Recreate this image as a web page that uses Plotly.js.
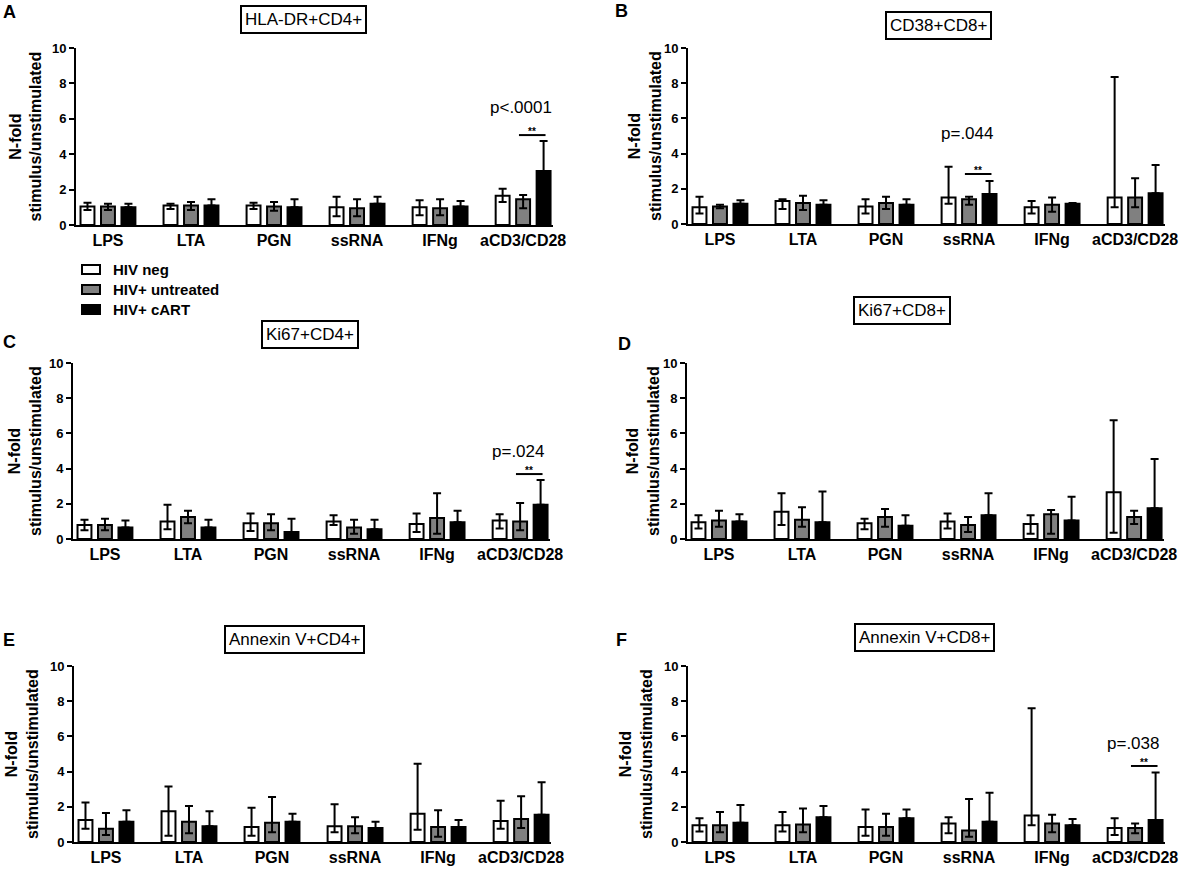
<!DOCTYPE html>
<html>
<head>
<meta charset="utf-8">
<script src="https://cdn.plot.ly/plotly-3.0.1.min.js"></script>
<style>
  html, body { margin: 0; padding: 0; background: #fff; }
  #chart { width: 1192px; height: 870px; }
</style>
</head>
<body>
<div id="chart"></div>
<script>
const W = 1192;
const H = 870;
const FONT = 'Liberation Sans, Arial, sans-serif';

const CATEGORIES = ['LPS', 'LTA', 'PGN', 'ssRNA', 'IFNg', 'aCD3/CD28'];
const GROUPS = ['HIV neg', 'HIV+ untreated', 'HIV+ cART'];
const FILLS = ['#ffffff', '#808080', '#000000'];
const PANEL_TITLES = ['HLA-DR+CD4+', 'CD38+CD8+', 'Ki67+CD4+', 'Ki67+CD8+', 'Annexin V+CD4+', 'Annexin V+CD8+'];
const PANEL_LETTERS = ['A', 'B', 'C', 'D', 'E', 'F'];

// bar heights per group: [HIV neg, HIV+ untreated, HIV+ cART]
const A_MEAN = [[1.05, 1.1, 1.1, 1.0, 1.0, 1.65], [1.05, 1.1, 1.05, 0.95, 0.95, 1.45], [1.0, 1.1, 1.0, 1.2, 1.05, 3.05]];
const A_HI = [[1.25, 1.2, 1.25, 1.6, 1.4, 2.05], [1.2, 1.3, 1.3, 1.45, 1.45, 1.7], [1.2, 1.45, 1.45, 1.6, 1.35, 4.75]];
const A_LO = [[0.85, 0.9, 0.9, 0.5, 0.55, 1.3], [0.85, 0.85, 0.8, 0.5, 0.55, 0.95]];

const B_MEAN = [[0.95, 1.3, 1.0, 1.5, 0.95, 1.5], [1.0, 1.2, 1.2, 1.4, 1.1, 1.5], [1.15, 1.1, 1.1, 1.7, 1.15, 1.75]];
const B_HI = [[1.55, 1.4, 1.4, 3.25, 1.3, 8.35], [1.1, 1.6, 1.55, 1.55, 1.5, 2.6], [1.35, 1.35, 1.4, 2.45, 1.2, 3.35]];
const B_LO = [[0.6, 0.85, 0.6, 1.15, 0.6, 0.95], [0.9, 0.8, 0.85, 1.1, 0.7, 0.95]];

const C_MEAN = [[0.8, 1.0, 0.9, 1.0, 0.85, 1.05], [0.8, 1.25, 0.9, 0.65, 1.2, 1.0], [0.65, 0.65, 0.4, 0.55, 0.95, 1.95]];
const C_HI = [[1.1, 1.95, 1.45, 1.35, 1.45, 1.4], [1.15, 1.6, 1.4, 1.1, 2.6, 2.05], [1.05, 1.1, 1.15, 1.1, 1.6, 3.35]];
const C_LO = [[0.5, 0.55, 0.45, 0.8, 0.4, 0.6], [0.5, 0.9, 0.5, 0.3, 0.3, 0.5]];

const D_MEAN = [[0.95, 1.55, 0.9, 1.0, 0.85, 2.65], [1.05, 1.1, 1.25, 0.8, 1.4, 1.25], [1.0, 0.95, 0.75, 1.35, 1.05, 1.75]];
const D_HI = [[1.35, 2.6, 1.15, 1.45, 1.35, 6.75], [1.6, 1.8, 1.7, 1.25, 1.65, 1.6], [1.4, 2.7, 1.35, 2.6, 2.4, 4.55]];
const D_LO = [[0.6, 0.8, 0.55, 0.6, 0.3, 0.35], [0.7, 0.7, 0.7, 0.4, 0.3, 0.85]];

const E_MEAN = [[1.25, 1.75, 0.85, 0.9, 1.6, 1.2], [0.75, 1.15, 1.1, 0.9, 0.85, 1.3], [1.15, 0.9, 1.15, 0.8, 0.85, 1.55]];
const E_HI = [[2.25, 3.15, 1.95, 2.15, 4.45, 2.35], [1.65, 2.05, 2.55, 1.4, 1.8, 2.6], [1.8, 1.75, 1.6, 1.15, 1.25, 3.4]];
const E_LO = [[0.75, 0.35, 0.35, 0.55, 0.7, 0.75], [0.4, 0.5, 0.55, 0.5, 0.3, 0.8]];

const F_MEAN = [[0.95, 0.95, 0.85, 1.05, 1.5, 0.8], [0.95, 1.0, 0.85, 0.65, 1.05, 0.8], [1.1, 1.4, 1.35, 1.15, 0.95, 1.25]];
const F_HI = [[1.35, 1.7, 1.85, 1.4, 7.6, 1.35], [1.7, 1.9, 1.6, 2.45, 1.55, 1.05], [2.1, 2.05, 1.85, 2.8, 1.3, 3.95]];
const F_LO = [[0.6, 0.6, 0.35, 0.5, 0.95, 0.4], [0.55, 0.55, 0.35, 0.3, 0.55, 0.5]];

// significance marks: panel, category, bracket height, p label, p label height
const SIG_PANEL = [0, 1, 2, 5];
const SIG_CATEGORY = [5, 3, 5, 5];
const SIG_BRACKET = [5.08, 2.84, 3.69, 4.32];
const SIG_TEXT = ['p<.0001', 'p=.044', 'p=.024', 'p=.038'];
const SIG_TEXT_Y = [6.65, 5.15, 5.0, 5.62];

const PANEL_DATA = [
  [A_MEAN, A_HI, A_LO], [B_MEAN, B_HI, B_LO], [C_MEAN, C_HI, C_LO],
  [D_MEAN, D_HI, D_LO], [E_MEAN, E_HI, E_LO], [F_MEAN, F_HI, F_LO],
];

// pixel boxes of each plot area and its decorations
const PANEL_BOX = [
  { l: 76, r: 553, t: 48, b: 225, titleX: 303, titleY: 20, letterX: 9, letterY: 12, ylabX: 25 },
  { l: 688, r: 1165, t: 48, b: 224, titleX: 938, titleY: 25, letterX: 621, letterY: 11, ylabX: 645 },
  { l: 73, r: 550, t: 363, b: 539, titleX: 310, titleY: 335, letterX: 9, letterY: 342, ylabX: 25 },
  { l: 687, r: 1164, t: 363, b: 539, titleX: 902, titleY: 310, letterX: 624, letterY: 344, ylabX: 643 },
  { l: 74, r: 551, t: 666, b: 842, titleX: 294, titleY: 639, letterX: 9, letterY: 640, ylabX: 22 },
  { l: 688, r: 1165, t: 666, b: 842, titleX: 925, titleY: 637, letterX: 621, letterY: 640, ylabX: 636 },
];

// legend block (drawn by hand, between panels A and C)
const LEGEND_ROW_Y = [269.5, 289.5, 309.5];
const LEGEND_BOX_X = [82, 100];
const LEGEND_TEXT_X = 111;

const px = (x) => x / W;
const py = (y) => 1 - y / H;
const catIdx = CATEGORIES.map((_, i) => i);

const traces = [];
const layout = {
  width: W,
  height: H,
  margin: { l: 0, r: 0, t: 0, b: 0 },
  paper_bgcolor: '#ffffff',
  plot_bgcolor: '#ffffff',
  barmode: 'group',
  bargap: 0.26,
  bargroupgap: 0.32,
  font: { family: FONT, color: '#000' },
  showlegend: false,
  annotations: [],
  shapes: [],
};

PANEL_DATA.forEach(([means, his, los], p) => {
  const suffix = p === 0 ? '' : String(p + 1);
  const box = PANEL_BOX[p];

  means.forEach((mean, g) => {
    const hi = his[g];
    const lo = los[g];
    traces.push({
      type: 'bar',
      name: GROUPS[g],
      x: catIdx,
      y: mean,
      xaxis: 'x' + suffix,
      yaxis: 'y' + suffix,
      marker: { color: FILLS[g], line: { color: '#000', width: 2 } },
      error_y: {
        type: 'data',
        symmetric: false,
        array: mean.map((v, i) => hi[i] - v),
        arrayminus: mean.map((v, i) => (lo ? v - lo[i] : 0)),
        color: '#000',
        thickness: 2,
        width: 4,
      },
      hoverinfo: 'skip',
    });
  });

  layout['xaxis' + suffix] = {
    domain: [px(box.l), px(box.r)],
    anchor: 'y' + suffix,
    range: [-0.385, 5.36],
    tickvals: catIdx,
    ticktext: CATEGORIES,
    ticks: '',
    showline: true,
    linecolor: '#000',
    linewidth: 2,
    showgrid: false,
    zeroline: false,
    fixedrange: true,
    tickfont: { family: FONT, size: 16, weight: 'bold', color: '#000' },
  };
  layout['yaxis' + suffix] = {
    domain: [py(box.b), py(box.t)],
    anchor: 'x' + suffix,
    range: [0, 10],
    dtick: 2,
    ticks: 'outside',
    ticklen: 5,
    tickwidth: 2,
    tickcolor: '#000',
    showline: true,
    linecolor: '#000',
    linewidth: 2,
    showgrid: false,
    zeroline: false,
    fixedrange: true,
    tickfont: { family: FONT, size: 13, weight: 'bold', color: '#000' },
  };

  // boxed panel title
  layout.annotations.push({
    xref: 'paper', yref: 'paper',
    x: px(box.titleX), y: py(box.titleY),
    xanchor: 'center', yanchor: 'middle',
    text: PANEL_TITLES[p],
    showarrow: false,
    font: { family: FONT, size: 17, color: '#000' },
    bgcolor: '#ffffff',
    bordercolor: '#000',
    borderwidth: 2,
    borderpad: 3,
  });
  // panel letter
  layout.annotations.push({
    xref: 'paper', yref: 'paper',
    x: px(box.letterX), y: py(box.letterY),
    xanchor: 'center', yanchor: 'middle',
    text: PANEL_LETTERS[p],
    showarrow: false,
    font: { family: FONT, size: 18, weight: 'bold', color: '#000' },
  });
  // y axis title
  layout.annotations.push({
    xref: 'paper', yref: 'paper',
    x: px(box.ylabX), y: py((box.t + box.b) / 2),
    xanchor: 'center', yanchor: 'middle',
    textangle: -90,
    text: 'N-fold<br>stimulus/unstimulated',
    showarrow: false,
    font: { family: FONT, size: 16, weight: 'bold', color: '#000' },
  });
});

SIG_PANEL.forEach((p, k) => {
  const suffix = p === 0 ? '' : String(p + 1);
  const c = SIG_CATEGORY[k];
  layout.shapes.push({
    type: 'line',
    xref: 'x' + suffix, yref: 'y' + suffix,
    x0: c - 0.05, x1: c + 0.27,
    y0: SIG_BRACKET[k], y1: SIG_BRACKET[k],
    line: { color: '#000', width: 2 },
  });
  layout.annotations.push({
    xref: 'x' + suffix, yref: 'y' + suffix,
    x: c + 0.11, y: SIG_BRACKET[k],
    xanchor: 'center', yanchor: 'bottom',
    yshift: -3,
    borderpad: 0,
    text: '**',
    showarrow: false,
    font: { family: FONT, size: 10, weight: 'bold', color: '#000' },
  });
  layout.annotations.push({
    xref: 'x' + suffix, yref: 'y' + suffix,
    x: c - 0.03, y: SIG_TEXT_Y[k],
    xanchor: 'center', yanchor: 'middle',
    borderpad: 0,
    text: SIG_TEXT[k],
    showarrow: false,
    font: { family: FONT, size: 17, color: '#000' },
  });
});

// legend swatches and labels
GROUPS.forEach((name, g) => {
  const yc = LEGEND_ROW_Y[g];
  layout.shapes.push({
    type: 'rect',
    xref: 'paper', yref: 'paper',
    x0: px(LEGEND_BOX_X[0]), x1: px(LEGEND_BOX_X[1]),
    y0: py(yc + 4.5), y1: py(yc - 4.5),
    fillcolor: FILLS[g],
    line: { color: '#000', width: 2 },
  });
  layout.annotations.push({
    xref: 'paper', yref: 'paper',
    x: px(LEGEND_TEXT_X), y: py(yc),
    xanchor: 'left', yanchor: 'middle',
    text: name,
    showarrow: false,
    font: { family: FONT, size: 15, weight: 'bold', color: '#000' },
  });
});

Plotly.newPlot('chart', traces, layout, { displayModeBar: false, staticPlot: true });
</script>
</body>
</html>
